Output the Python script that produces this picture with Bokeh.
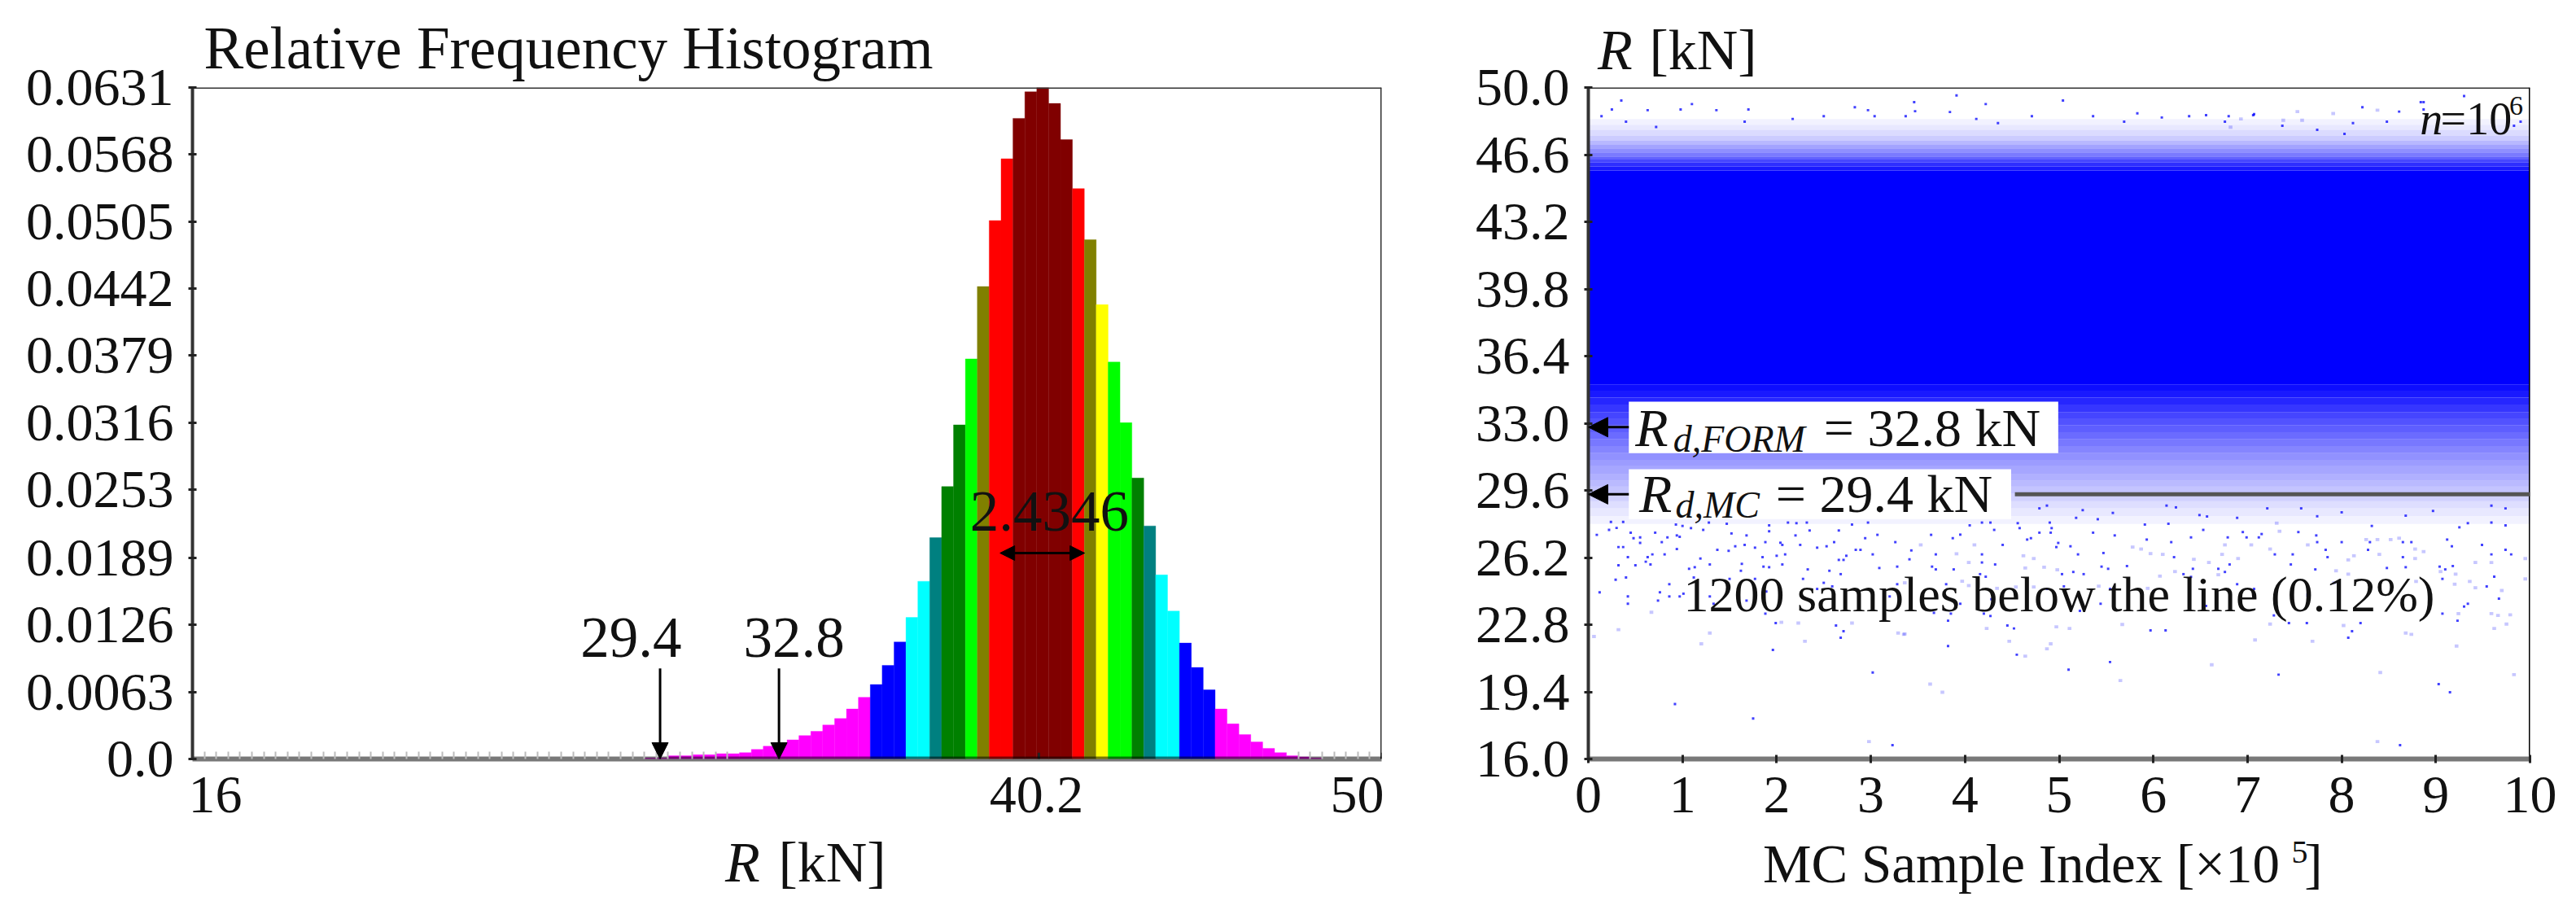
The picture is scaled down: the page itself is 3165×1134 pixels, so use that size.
from bokeh.embed import file_html
from bokeh.resources import INLINE
from bokeh.layouts import row
from bokeh.models import FixedTicker, Label, Arrow, NormalHead, Range1d, LinearAxis
from bokeh.plotting import figure

FONT = "Liberation Serif"

# ---- left panel: relative frequency histogram ----
hist_start = 16.0
hist_bin = 0.34
hist_first_bin = 38
hist_values = [
    0.0001, 0.0001, 0.0003, 0.0003, 0.0004, 0.0004, 0.0005, 0.0005, 0.0006, 0.0009, 0.0012, 0.00145,
    0.0018, 0.0022, 0.0026, 0.0032, 0.0038, 0.0047, 0.0058, 0.0070, 0.0088, 0.0110,
    0.0133, 0.0167, 0.0208, 0.0256, 0.0314, 0.0376, 0.0444, 0.0506, 0.0564, 0.0602,
    0.0627, 0.0631, 0.0616, 0.0582, 0.0536, 0.0488, 0.0427, 0.0373, 0.0316, 0.0264,
    0.0219, 0.0173, 0.0139, 0.0109, 0.0086, 0.0065, 0.0047, 0.0033, 0.0023, 0.0016,
    0.0010, 0.0006, 0.0003, 0.0002, 0.0001,
]
hist_color_names = (
    ["#ff00ff"] * 19 + ["#0000ff"] * 3 + ["#00ffff"] * 2 + ["#008080"] + ["#008000"] * 2
    + ["#00ff00"] + ["#808000"] + ["#ff0000"] * 2 + ["#800000"] * 5 + ["#ff0000"]
    + ["#808000"] + ["#ffff00"] + ["#00ff00"] * 2 + ["#008000"] + ["#008080"]
    + ["#00ffff"] * 2 + ["#0000ff"] * 3 + ["#ff00ff"] * 9
)
hist_yticks = [0.0, 0.0063, 0.0126, 0.0189, 0.0253, 0.0316, 0.0379, 0.0442, 0.0505, 0.0568, 0.0631]
hist_ylabels = ["0.0", "0.0063", "0.0126", "0.0189", "0.0253", "0.0316", "0.0379", "0.0442", "0.0505", "0.0568", "0.0631"]
hist_xticks = [16, 40.2, 50]
hist_xlabels = ["16", "40.2", "50"]
hist_xlabel_places = [16.65, 40.13, 49.3]
marker_values = [29.4, 32.8]
spread_label = "2.4346"

# ---- right panel: samples ----
scatter_yticks = [16.0, 19.4, 22.8, 26.2, 29.6, 33.0, 36.4, 39.8, 43.2, 46.6, 50.0]
scatter_xticks = list(range(0, 11))
# bands of the dense cloud: low R, high R, share of the area that is inked
band_low = [27.9, 28.3, 28.7, 29.05, 29.45, 29.8, 30.1, 30.45, 30.83, 31.15, 31.5, 31.85, 32.2, 32.55, 32.9, 33.25, 33.57, 33.95, 34.3, 34.65, 34.95,
            45.8, 46.0, 46.2, 46.35, 46.5, 46.7, 46.9, 47.1, 47.3, 47.55, 47.85, 48.1]
band_high = [28.3, 28.7, 29.05, 29.45, 29.8, 30.1, 30.45, 30.83, 31.15, 31.5, 31.85, 32.2, 32.55, 32.9, 33.25, 33.57, 33.95, 34.3, 34.65, 34.95, 45.8,
             46.0, 46.2, 46.35, 46.5, 46.7, 46.9, 47.1, 47.3, 47.55, 47.85, 48.1, 48.4]
band_share = [0.05, 0.09, 0.13, 0.18, 0.23, 0.27, 0.31, 0.35, 0.39, 0.43, 0.48, 0.53, 0.58, 0.63, 0.68, 0.73, 0.79, 0.85, 0.90, 0.95, 1.0,
              0.90, 0.82, 0.72, 0.62, 0.52, 0.44, 0.36, 0.28, 0.20, 0.14, 0.09, 0.05]

strong_index = [
    0.09,0.24,0.22,0.30,0.37,0.45,0.55,0.32,0.37,0.42,0.63,0.68,0.81,0.61,0.66,0.50,0.32,0.29,0.40,0.12,0.42,0.42,0.76,0.74,0.86,0.86,0.97,
    1.96,1.99,2.63,2.71,2.68,3.02,0.92,1.75,3.23,0.94,0.94,0.84,0.97,0.71,0.48,0.55,0.78,1.19,1.13,1.07,1.29,1.50,1.12,1.77,1.63,1.62,1.86,1.92,2.06,2.33,2.56,2.68,2.28,2.5,2.59,
    2.09,2.0,1.85,3.02,2.66,2.71,2.74,1.56,1.66,1.49,1.37,1.77,1.88,2.04,2.06,2.25,2.43,2.53,2.61,2.84,2.89,3.09,3.28,3.28,3.2,1.68,1.33,1.88,1.89,1.29,1.01,2.43,
    .93,1.0,1.09,1.22,1.28,1.47,1.52,1.68,1.92,1.92,2.12,2.21,2.32,2.35,2.2,2.66,2.97,2.94,3.07,3.26,2.8,
    3.64,3.69,3.43,3.41,3.88,3.69,3.65,4.16,4.22,4.32,4.18,4.18,4.4,4.66,4.7,4.79,4.91,4.99,4.97,5.12,5.2,5.47,5.93,6.19,6.22,6.4,5.03,5.15,5.26,5.45,5.72,5.52,6.32,6.4,6.42,6.69,
    5.05,4.87,3.8,3.95,3.67,3.85,3.82,4.2,4.27,4.28,5.11,5.22,5.44,5.54,6.0,6.56,4.45,4.52,5.97,6.13,3.82,4.55,5.54,5.1,
    4.05,4.18,4.27,4.31,4.56,4.58,4.9,4.92,5.18,5.41,5.91,6.16,6.57,4.79,4.87,5.25,5.57,6.14,6.24,6.49,5.36,5.59,6.53,3.95,3.87,
    6.79,6.99,7.12,6.81,6.76,6.89,7.07,7.46,7.72,7.85,8.48,8.68,9.04,9.1,9.18,9.07,9.59,9.8,9.62,9.54,9.67,9.07,9.23,9.3,9.34,7.28,7.44,7.63,8.2,8.11,8.07,7.33,9.03,9.15,8.62,
    6.95,7.15,7.54,7.73,7.74,7.83,8.0,8.3,8.65,8.74,8.65,8.28,7.29,7.48,9.12,9.17,9.49,9.74,9.34,9.59,9.74,9.25,8.97,8.68,7.74,7.57,7.21,6.89,8.32,8.0,9.59,9.74,
    9.3,8.87,8.22,7.07,8.61,6.76,8.48,8.12,8.87,9.9,7.37,7.74,8.03,9.83,
    .35,3.91,5.04,3.46,4.22,1.1,.25,.63,.98,1.7,1.36,2.83,2.97,3.47,6.38,5.83,6.56,7.06,8.84,.14,.4,.72,1.66,2.17,2.5,3.04,3.37,3.84,4.12,4.35,4.71,5.36,5.69,6.09,6.8,
]
strong_r = [
    27.35,28.0,27.6,27.7,28.0,27.46,27.22,26.73,26.73,26.22,26.22,26.36,26.36,25.99,25.85,25.81,25.81,25.08,25.19,24.44,24.23,23.86,24.44,24.02,24.85,24.23,24.23,
    21.52,22.88,22.76,22.47,22.14,20.38,18.78,18.05,16.7,26.63,27.32,27.22,27.25,27.46,27.18,26.94,26.98,26.15,25.71,25.63,25.85,25.12,25.19,25.12,25.88,25.53,25.74,25.71,25.85,25.6,25.53,25.36,25.12,24.92,24.74,
    26.36,26.29,26.22,26.36,26.08,26.08,26.29,26.77,26.84,26.54,26.59,26.7,26.98,26.95,26.84,26.84,26.7,26.77,26.98,26.59,26.59,25.67,25.74,24.85,24.23,24.02,23.86,23.36,24.48,24.23,24.37,24.61,
    27.87,27.8,27.69,27.6,27.97,27.91,27.42,27.32,27.83,27.53,27.97,27.94,27.97,27.57,27.32,27.57,27.97,27.18,27.35,26.98,27.87,
    27.35,26.36,26.56,26.11,25.6,25.6,25.74,25.36,25.23,25.85,26.36,25.95,26.84,27.11,27.18,27.46,27.46,26.94,26.73,26.77,26.36,26.43,27.11,26.98,26.22,27.22,25.36,25.47,25.36,25.74,25.77,25.63,25.36,25.22,25.63,25.63,
    24.74,24.61,24.85,23.86,23.4,23.36,23.0,23.36,23.24,24.09,23.75,23.5,23.86,24.61,24.48,23.75,22.76,22.61,22.51,22.51,21.72,21.28,20.91,20.52,
    27.83,27.97,27.97,27.6,27.94,27.69,27.97,27.69,28.21,28.14,27.87,27.91,28.28,28.69,28.83,28.6,28.46,28.83,28.74,28.35,27.46,27.32,27.6,27.36,27.18,
    27.22,27.22,27.22,25.85,25.47,24.85,24.61,25.85,25.6,26.22,25.67,25.71,25.74,25.6,25.77,25.12,26.36,26.36,25.23,24.74,24.12,23.36,23.0,23.72,23.86,23.27,22.88,22.88,22.88,22.47,22.14,20.27,19.79,19.38,16.7,
    27.49,27.39,27.49,27.32,26.98,26.59,26.98,26.98,26.98,26.98,26.22,26.59,26.36,26.36,27.11,26.77,26.84,26.59,27.94,27.97,27.83,27.73,28.56,28.32,28.29,28.69,28.69,28.21,27.8,28.49,28.83,28.69,
    49.57,49.26,49.0,48.65,48.78,48.27,48.27,48.2,48.89,48.27,48.06,47.86,47.65,48.06,
    49.34,49.6,49.34,49.26,49.16,49.16,48.89,48.85,48.89,48.89,48.85,49.0,48.85,48.8,48.55,48.69,48.6,48.6,49.26,48.55,48.27,48.0,48.27,48.41,48.55,48.55,48.55,48.76,48.41,48.2,48.55,48.55,48.27,48.48,48.55,
]
faint_index = [
    .67,.32,.06,1.29,1.2,2.05,2.23,2.30,2.80,3.29,3.36,2.98,
    4.23,4.97,5.11,5.67,3.35,4.47,4.91,4.87,4.64,6.62,3.63,3.76,5.65,
    3.36,4.04,3.53,3.91,4.04,4.62,4.73,4.64,4.84,4.98,4.73,4.54,4.34,5.42,5.94,6.07,6.23,6.43,6.59,5.97,6.1,5.78,5.87,4.1,3.97,
    7.24,7.08,7.69,8.02,8.68,8.74,9.22,8.41,9.83,8.38,9.62,9.75,9.59,9.66,9.79,9.24,9.7,9.42,9.36,9.2,9.21,9.05,9.95,9.42,9.59,9.95,
    7.64,7.04,7.24,6.73,6.9,8.07,8.13,8.4,8.78,8.87,8.78,7.94,8.07,6.69,7.92,8.79,7.64,8.38,8.61,8.52,8.26,7.31,7.34,6.76,
    8.38,7.91,7.53,6.93,7.38,7.58,6.82,
]
faint_r = [
    23.43,22.55,22.2,22.38,21.83,22.92,22.88,21.96,22.88,22.38,22.33,16.88,
    22.61,22.69,22.61,22.81,22.31,21.96,21.83,21.58,21.21,20.77,19.79,19.38,19.97,
    24.92,24.78,26.84,26.39,25.95,26.29,26.15,25.67,25.71,25.58,24.71,24.71,24.64,24.75,24.64,25.26,25.49,26.11,25.95,26.4,26.36,26.73,26.63,26.84,25.0,
    22.83,22.03,21.96,22.76,22.38,22.31,21.72,20.38,20.27,16.88,22.61,22.83,23.36,23.27,23.3,23.36,24.53,24.67,24.99,24.85,25.36,25.49,25.12,25.95,25.95,26.15,
    26.84,26.84,26.63,26.36,26.15,26.08,26.29,26.36,26.63,26.5,26.15,25.53,25.36,25.33,24.92,24.99,24.3,27.11,27.18,27.11,27.11,27.94,27.53,26.84,
    48.85,48.68,48.78,48.41,48.34,48.34,47.99,
]
rd_form = 32.8
rd_mc = 29.4

AXIS = "#333333"
LEFT_W = 1800
HEIGHT = 1132
TOP_PX = 107
BASE_PX = 932
H_FACTOR = 1.15   # height that the layout reserves for a label, per font pixel


def txt(p, x, y, s, size, style="normal", align="left"):
    p.add_layout(Label(x=x, y=y, y_offset=round(0.3375 * size), text=s, text_font=FONT,
                       text_font_size=f"{size}px", text_font_style=style, text_align=align,
                       text_baseline="alphabetic", text_color="#111111"))


def text_row(p, side, fx0, fx1, items):
    """Texts outside the frame: label-only axes that share one line, by negative standoffs.
    items: (centre px, offset px from the start of the panel, text, size, style)."""
    xr = p.x_range
    used = 0.0
    for cx_px, off, s, size, style in items:
        cx = round(xr.start + (cx_px - fx0) / (fx1 - fx0) * (xr.end - xr.start), 4)
        standoff = round(off - used)
        ax = LinearAxis(ticker=FixedTicker(ticks=[cx]), major_label_overrides={cx: s},
                        axis_line_color=None, major_tick_line_color=None,
                        minor_tick_line_color=None, major_tick_in=0, major_tick_out=0,
                        major_label_standoff=standoff, major_label_text_font=FONT,
                        major_label_text_font_size=f"{size}px", major_label_text_font_style=style,
                        major_label_text_color="#111111")
        p.add_layout(ax, side)
        used += standoff + H_FACTOR * size


def base_fig(width, xr, yr, left_b, right_b):
    p = figure(width=width, height=HEIGHT, x_range=Range1d(*xr), y_range=Range1d(*yr),
               output_backend="svg", toolbar_location=None,
               min_border_left=left_b, min_border_right=right_b, min_border_top=TOP_PX,
               min_border_bottom=HEIGHT - BASE_PX)
    p.grid.visible = False
    p.outline_line_color = None
    p.background_fill_color = "white"
    p.border_fill_color = "white"
    for ax in (p.xaxis[0], p.yaxis[0]):
        ax.major_label_text_font = FONT
        ax.major_label_text_font_size = "66px"
        ax.major_label_text_color = "#111111"
        ax.major_tick_line_color = "#222222"
        ax.major_tick_line_width = 3
        ax.major_tick_out = 5
        ax.major_tick_in = 5
        ax.minor_tick_line_color = None
    p.xaxis[0].axis_line_color = "black"
    p.xaxis[0].axis_line_alpha = 0.53
    p.xaxis[0].axis_line_width = 6
    p.xaxis[0].major_label_standoff = 17
    p.yaxis[0].axis_line_color = AXIS
    p.yaxis[0].axis_line_width = 4
    p.yaxis[0].major_label_standoff = 18
    return p


# ---- left figure ----
left = base_fig(LEFT_W, (16, 50), (0, 0.0631), 236, 103)
right = base_fig(3157 - LEFT_W, (0, 10), (16, 50), 1951 - LEFT_W, 49)

n_bins = len(hist_values)
edges = [hist_start + hist_bin * (hist_first_bin + i) for i in range(n_bins + 1)]
left.quad(left=edges[:-1], right=edges[1:], bottom=0, top=hist_values, fill_color=hist_color_names,
          line_color=hist_color_names, line_width=0.6, line_alpha=0.6)
empty_bins = list(range(0, 46)) + list(range(93, 100))
left.xaxis[0].ticker = FixedTicker(ticks=hist_xlabel_places,
                                   minor_ticks=[hist_start + hist_bin * k for k in empty_bins])
left.xaxis[0].major_label_overrides = dict(zip(hist_xlabel_places, hist_xlabels))
left.xaxis[0].major_tick_line_color = None
left.xaxis[0].minor_tick_line_color = "#bbbbbb"
left.xaxis[0].minor_tick_line_width = 2
left.xaxis[0].minor_tick_in = 9
left.xaxis[0].minor_tick_out = 0
left.yaxis[0].ticker = FixedTicker(ticks=hist_yticks)
left.yaxis[0].major_label_overrides = dict(zip(hist_yticks, hist_ylabels))
left.segment(x0=[16, 50], x1=[50, 50], y0=[0.0631, 0], y1=[0.0631, 0.0631], line_color=AXIS, line_width=3)
left.segment(x0=hist_xticks[1:], x1=hist_xticks[1:], y0=[0, 0], y1=[0.0006, 0.0006], line_color="#222222", line_width=3)
for v, lx in zip(marker_values, [28.54, 33.2]):
    left.add_layout(Arrow(end=NormalHead(size=20, fill_color="black", line_color="black"),
                          x_start=v - 0.03, y_start=0.0085, x_end=v - 0.03, y_end=0.0,
                          line_color="black", line_width=3))
    txt(left, lx, 0.00956, f"{v}", 71, align="center")
left.add_layout(Arrow(start=NormalHead(size=18, fill_color="black", line_color="black"),
                      end=NormalHead(size=18, fill_color="black", line_color="black"),
                      x_start=39.09, y_start=0.01935, x_end=41.51, y_end=0.01935,
                      line_color="black", line_width=3))
txt(left, 40.5, 0.0214, spread_label, 71, align="center")
text_row(left, "above", 236, 1697, [(698, 8, "Relative Frequency Histogram", 73, "normal")])
text_row(left, "below", 236, 1697, [(912, 20, "R", 70, "italic"), (1022, 20, "[kN]", 70, "normal")])

# ---- right figure ----
right.quad(left=0, right=10, bottom=band_low, top=band_high, fill_color="#0000ff",
           fill_alpha=band_share, line_color=None)
right.rect(x=faint_index, y=faint_r, width=0.04, height=0.16, fill_color="#0000ff",
           fill_alpha=0.22, line_color=None)
right.rect(x=strong_index, y=strong_r, width=0.026, height=0.12, fill_color="#0000ff",
           fill_alpha=0.75, line_color=None)
right.xaxis[0].ticker = FixedTicker(ticks=scatter_xticks)
right.yaxis[0].ticker = FixedTicker(ticks=scatter_yticks)
right.yaxis[0].major_label_overrides = {v: f"{v:.1f}" for v in scatter_yticks}
right.segment(x0=[0], x1=[10], y0=[50], y1=[50], line_color=AXIS, line_width=3)
right.segment(x0=[10], x1=[10], y0=[16], y1=[50], line_color="black", line_width=3)
# white boxes behind the two call-outs
right.quad(left=[0.43, 0.43], right=[4.99, 4.49], bottom=[31.49, 28.15], top=[34.09, 30.67],
           fill_color="white", line_color=None)
right.segment(x0=[4.53], x1=[10], y0=[rd_mc], y1=[rd_mc], line_color="#555555", line_width=5)
for v in (rd_form, rd_mc):
    right.add_layout(Arrow(end=NormalHead(size=24, fill_color="black", line_color="black"),
                           x_start=0.43, y_start=v, x_end=0.0, y_end=v,
                           line_color="black", line_width=3))
txt(right, 0.50, 31.86, "R", 66, style="italic")
txt(right, 0.90, 31.53, "d,FORM", 46, style="italic")
txt(right, 2.50, 31.86, "= 32.8 kN", 66)
txt(right, 0.54, 28.52, "R", 66, style="italic")
txt(right, 0.925, 28.2, "d,MC", 46, style="italic")
txt(right, 1.99, 28.52, "= 29.4 kN", 66)
txt(right, 5.0, 23.5, "1200 samples below the line (0.12%)", 62, align="center")
txt(right, 8.83, 47.62, "n", 56, style="italic")
txt(right, 9.05, 47.62, "=10", 56)
txt(right, 9.78, 48.6, "6", 34)
text_row(right, "above", 1951, 3108, [(1984, 8, "R", 70, "italic"), (2092, 8, "[kN]", 70, "normal")])
text_row(right, "below", 1951, 3108, [(2825, 33, "5", 40, "normal"),
                                      (2483, 40, "MC Sample Index [\u00d710", 67, "normal"),
                                      (2842, 40, "]", 67, "normal")])

open("out.html", "w").write(file_html(row(left, right, spacing=0), INLINE))
